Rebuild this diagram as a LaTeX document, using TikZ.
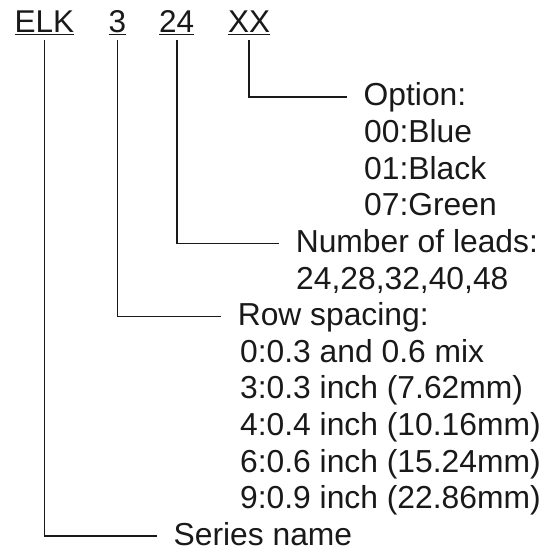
\documentclass[tikz,border=0pt]{standalone}
\usepackage{fontspec}
\setmainfont{Liberation Sans}
\usepackage{tikz}
\usetikzlibrary{positioning}
\definecolor{inkgray}{RGB}{25,25,25}

\begin{document}
\begin{tikzpicture}[x=1pt, y=-1pt,
    code/.style={anchor=base west, inner xsep=0pt, inner ysep=5pt, text=inkgray,
                 font=\fontsize{31.5}{36}\selectfont},
    head/.style={anchor=base west, inner xsep=17pt, inner ysep=0pt, text=inkgray,
                 text height=18pt, text depth=0pt, font=\fontsize{31.8}{36}\selectfont},
    item/.style={anchor=base west, inner sep=0pt, text=inkgray,
                 font=\fontsize{31.8}{36}\selectfont},
    lead/.style={line width=1.7pt, draw=inkgray}
]
    \useasboundingbox (0,0) rectangle (551,553);

    % part number fields
    \node[code] (elk) at (14.5,32.5)  {\underline{ELK}};
    \node[code] (sp)  at (108.5,32.5) {\underline{3}};
    \node[code] (nl)  at (159,32.5)   {\underline{24}};
    \node[code] (xx)  at (228,32.5)   {\underline{XX}};

    % option
    \node[head] (opt)   at (346.5,106)   {Option:};
    \node[item] (blue)  at (364,142.6)   {00:Blue};
    \node[item] (black) at (364,179.2)   {01:Black};
    \node[item] (green) at (364,215.8)   {07:Green};

    % number of leads
    \node[head] (leads)    at (278.6,252.4) {Number of leads:};
    \node[item] (leadvals) at (296,289)     {24,28,32,40,48};

    % row spacing
    \node[head] (rows) at (220.6,325.6) {Row spacing:};
    \node[item] (mix)  at (240,362.2)   {0:0.3 and 0.6 mix};
    \node[item] (r3)   at (240,398.8)   {3:0.3 inch (7.62mm)};
    \node[item] (r4)   at (240,435.4)   {4:0.4 inch (10.16mm)};
    \node[item] (r6)   at (240,472)     {6:0.6 inch (15.24mm)};
    \node[item] (r9)   at (240,508.6)   {9:0.9 inch (22.86mm)};

    % series
    \node[head] (series) at (156.5,545.2) {Series name};

    \draw[lead] (xx.south)  |- (opt.west);
    \draw[lead] (nl.south)  |- (leads.west);
    \draw[lead] (sp.south)  |- (rows.west);
    \draw[lead] (elk.south) |- (series.west);
\end{tikzpicture}
\end{document}
